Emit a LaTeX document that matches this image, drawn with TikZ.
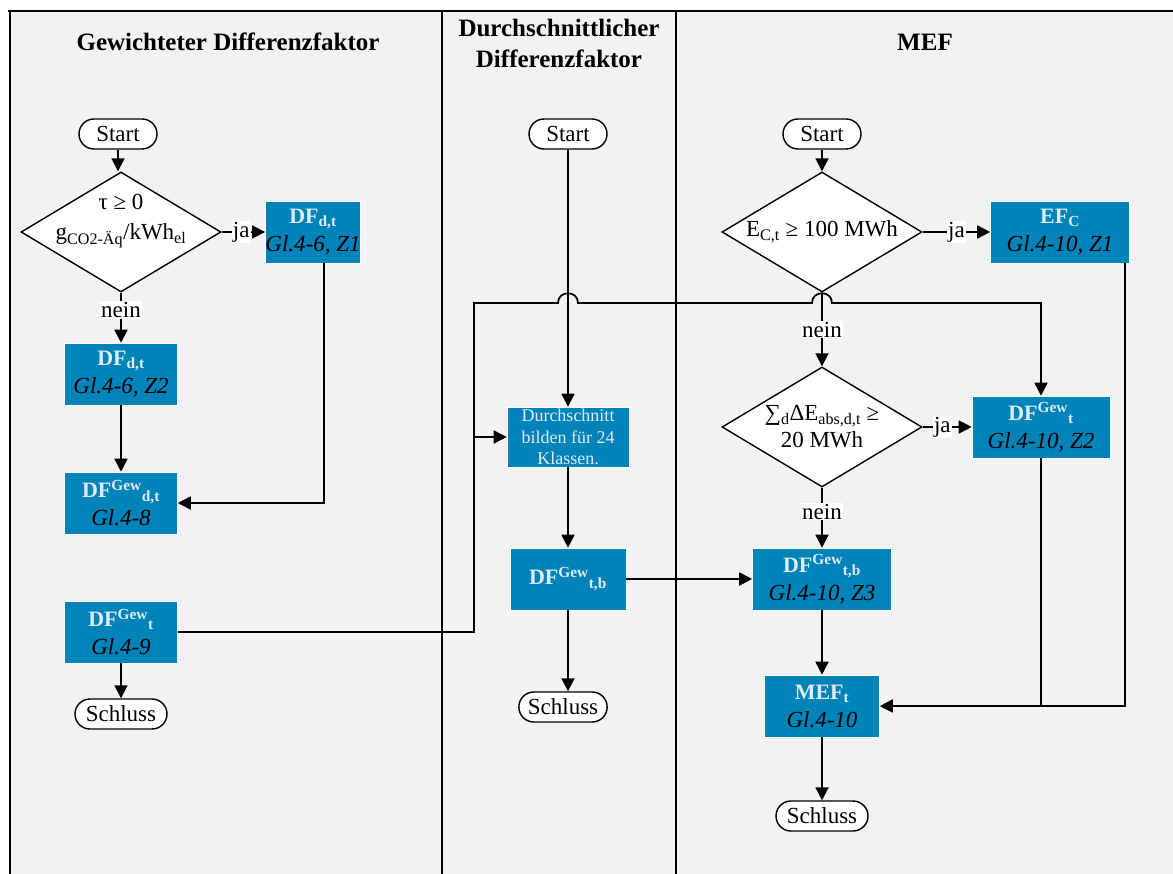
\documentclass[tikz,border=0pt]{standalone}
\usepackage{fontspec}
\setmainfont{Liberation Serif}
\usetikzlibrary{arrows.meta,shapes.geometric,calc}
\definecolor{boxblue}{RGB}{0,131,185}
\definecolor{boxtext}{RGB}{222,236,245}
\definecolor{lanebg}{RGB}{242,242,242}
\begin{document}
\begin{tikzpicture}[x=1pt,y=-1pt,
  lane/.style={line width=2.8pt},
  conn/.style={line width=1.8pt,-{Triangle[length=13pt,width=13pt]}},
  plainline/.style={line width=1.8pt},
  term/.style={draw,line width=1.4pt,fill=white,rounded corners=15pt,minimum height=30pt,minimum width=78pt,inner xsep=9pt,inner ysep=0pt,font=\fontsize{23}{23}\selectfont},
  dia/.style={draw,line width=1.4pt,fill=white,diamond,aspect=1.667,minimum width=200pt,minimum height=120pt,inner sep=0pt},
  diatext/.style={align=center,inner sep=0pt,font=\fontsize{23}{30}\selectfont},
  proc/.style={fill=boxblue,draw=white,line width=0.6pt,minimum height=62pt,inner sep=0pt,align=center,font=\fontsize{23}{28}\selectfont},
  lbl/.style={fill=white,inner sep=1pt,font=\fontsize{23}{23}\selectfont},
  title/.style={align=center,font=\fontsize{25}{31}\selectfont\bfseries}
]
\newcommand{\hd}[1]{{\color{boxtext}\bfseries\fontsize{22}{22}\selectfont #1}}
\useasboundingbox (0,0) rectangle (1173,874);
\fill[lanebg] (10,11) rectangle (1173,874);
\draw[lane] (8,11) -- (1173,11);
\draw[lane] (10,11) -- (10,874);
\draw[lane] (442,11) -- (442,874);
\draw[lane] (676,11) -- (676,874);

% titles
\node[title] (t1) at (228,42) {Gewichteter Differenzfaktor};
\node[title] (t2) at (559,43) {Durchschnittlicher\\Differenzfaktor};
\node[title] (t3) at (925,42) {MEF};

% left lane
\node[term] (s1) at (118,134) {Start};
\node[dia] (d1) at (121,232) {};
\node[diatext] (d1t) at (121,221) {τ ≥ 0\\g\textsubscript{CO2-Äq}/kWh\textsubscript{el}};
\node[proc,minimum width=93pt] (dfa) at (313,232) {\hd{DF\textsubscript{d,t}}\\\itshape Gl.4-6, Z1};
\node[proc,minimum width=113pt] (dfb) at (121,374) {\hd{DF\textsubscript{d,t}}\\\itshape Gl.4-6, Z2};
\node[proc,minimum width=113pt] (dfgdt) at (121,503) {\hd{DF\textsuperscript{Gew}\textsubscript{d,t}}\\\itshape Gl.4-8};
\node[proc,minimum width=113pt] (dfgt) at (121,632) {\hd{DF\textsuperscript{Gew}\textsubscript{t}}\\\itshape Gl.4-9};
\node[term,minimum width=92pt] (sch1) at (121,714) {Schluss};

% middle lane
\node[term] (s2) at (568,134) {Start};
\node[proc,minimum width=122pt,minimum height=60pt,font=\fontsize{18}{21.5}\selectfont,text=boxtext] (avg) at (568,437) {Durchschnitt\\bilden für 24\\Klassen.};
\node[proc,minimum width=116pt] (dfgtb) at (568,579) {\hd{DF\textsuperscript{Gew}\textsubscript{t,b}}};
\node[term,minimum width=84pt] (sch2) at (563,707) {Schluss};

% right lane
\node[term] (s3) at (822,134) {Start};
\node[dia] (d2) at (822,232) {};
\node[diatext] (d2t) at (822,232) {E\textsubscript{C,t} ≥ 100 MWh};
\node[proc,minimum width=139pt] (ef) at (1060,232) {\hd{EF\textsubscript{C}}\\\itshape Gl.4-10, Z1};
\node[dia] (d3) at (822,427) {};
\node[diatext,font=\fontsize{23}{27}\selectfont] (d3t) at (822,427) {∑\textsubscript{d}ΔE\textsubscript{abs,d,t} ≥\\20 MWh};
\node[proc,minimum width=138pt] (mgt) at (1041,427) {\hd{DF\textsuperscript{Gew}\textsubscript{t}}\\\itshape Gl.4-10, Z2};
\node[proc,minimum width=139pt] (dfgtb3) at (822,579) {\hd{DF\textsuperscript{Gew}\textsubscript{t,b}}\\\itshape Gl.4-10, Z3};
\node[proc,minimum width=115pt] (meft) at (822,706) {\hd{MEF\textsubscript{t}}\\\itshape Gl.4-10};
\node[term,minimum width=92pt] (sch3) at (822,816) {Schluss};

\coordinate (j1) at (474,303);

% left connectors
\draw[conn] (s1.south) -- (s1.south |- d1.north);
\draw[conn] (d1.east) -- node[lbl,pos=0.45] (ja1) {ja} (dfa.west);
\draw[conn] (d1.south) -- node[lbl,pos=0.35] (nein1) {nein} (dfb.north);
\draw[conn] (dfb.south) -- (dfgdt.north);
\draw[conn] ([xshift=11pt]dfa.south) |- (dfgdt.east);
\draw[conn] (dfgt.south) -- (sch1.north);
\draw[conn] (dfgt.east) -| (j1) -- ($(s2|-j1)+(-10,0)$)
  .. controls ($(s2|-j1)+(-10,-13)$) and ($(s2|-j1)+(10,-13)$) .. ($(s2|-j1)+(10,0)$)
  -- ($(d2|-j1)+(-10,0)$)
  .. controls ($(d2|-j1)+(-10,-13)$) and ($(d2|-j1)+(10,-13)$) .. ($(d2|-j1)+(10,0)$)
  -| (mgt.north);
\draw[conn] (avg.west -| j1) -- (avg.west);

% middle connectors
\draw[conn] (s2.south) -- (avg.north);
\draw[conn] (avg.south) -- (dfgtb.north);
\draw[conn] (dfgtb.south) -- (dfgtb.south |- sch2.north);
\draw[conn] (dfgtb.east) -- (dfgtb3.west);

% right connectors
\draw[conn] (s3.south) -- (d2.north);
\draw[conn] (d2.east) -- node[lbl,pos=0.5] (ja2) {ja} (ef.west);
\draw[conn] (d2.south) -- node[lbl,pos=0.5] (nein2) {nein} (d3.north);
\draw[conn] (d3.east) -- node[lbl,pos=0.4] (ja3) {ja} (mgt.west);
\draw[conn] (d3.south) -- node[lbl,pos=0.4] (nein3) {nein} (dfgtb3.north);
\draw[conn] (dfgtb3.south) -- (meft.north);
\draw[conn] (meft.south) -- (sch3.north);
\draw[conn] ([xshift=65pt]ef.south) |- (meft.east);
\draw[plainline] (mgt.south) -- (mgt.south |- meft.east);
\end{tikzpicture}
\end{document}
